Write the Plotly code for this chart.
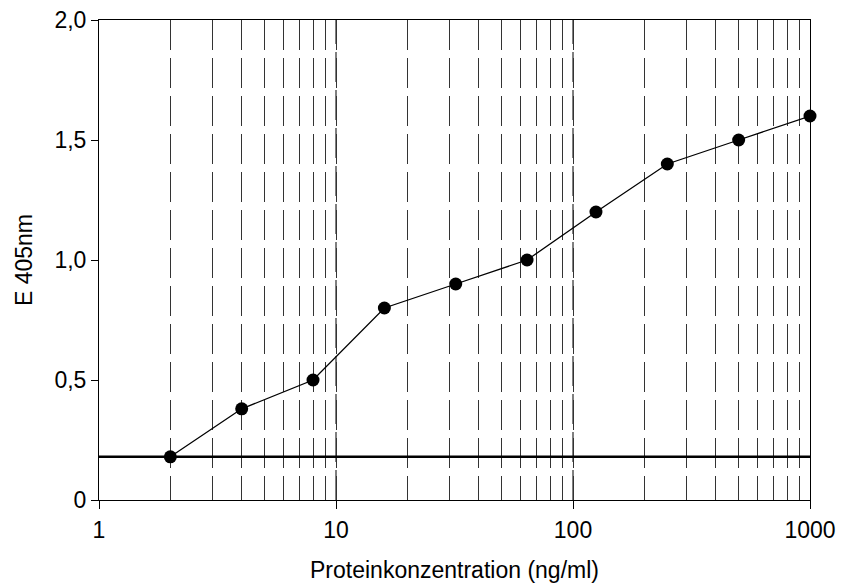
import plotly.graph_objects as go

# ELISA standard curve: extinction at 405 nm against protein concentration
konzentration = [2, 4, 8, 16, 32, 64, 125, 250, 500, 1000]
extinktion = [0.18, 0.38, 0.50, 0.80, 0.90, 1.00, 1.20, 1.40, 1.50, 1.60]
hintergrund = 0.18
x_bereich = [1, 1000]

y_tickvals = [0, 0.5, 1.0, 1.5, 2.0]
y_ticktext = ["0", "0,5", "1,0", "1,5", "2,0"]
x_tickvals = [1, 10, 100, 1000]
x_ticktext = ["1", "10", "100", "1000"]
dekaden_linien = [10, 100]

schrift = dict(family="Liberation Sans, Arial, sans-serif", size=23, color="black")

fig = go.Figure()

# background level line
fig.add_trace(go.Scatter(
    x=x_bereich, y=[hintergrund, hintergrund], mode="lines",
    line=dict(color="black", width=2.6), hoverinfo="skip", showlegend=False,
))

# measured curve
fig.add_trace(go.Scatter(
    x=konzentration, y=extinktion, mode="lines+markers",
    line=dict(color="black", width=1.3),
    marker=dict(color="black", size=13),
    cliponaxis=False, showlegend=False,
))

# decade lines drawn upward from the x axis
for d in dekaden_linien:
    fig.add_shape(type="line", xref="x", yref="y", x0=d, x1=d, y0=0, y1=2,
                  line=dict(color="black", width=1, dash="30px,8px"), layer="below")

fig.update_xaxes(
    type="log", range=[0, 3], automargin=False,
    tickvals=x_tickvals, ticktext=x_ticktext,
    ticks="outside", ticklen=8, tickcolor="black", tickwidth=1,
    ticklabelstandoff=1,
    showline=True, linecolor="black", linewidth=1, mirror=True,
    showgrid=False, zeroline=False,
    minor=dict(showgrid=True, gridcolor="#333333", gridwidth=1,
               griddash="30px,8px", ticks="", dtick="D1"),
    tickfont=schrift,
    title=dict(text="Proteinkonzentration (ng/ml)", font=schrift, standoff=21),
)
fig.update_yaxes(
    range=[0, 2], automargin=False,
    tickvals=y_tickvals, ticktext=y_ticktext,
    ticks="outside", ticklen=7, tickcolor="black", tickwidth=1,
    showline=True, linecolor="black", linewidth=1, mirror=True,
    showgrid=False, zeroline=False,
    tickfont=schrift,
    title=dict(text="E 405nm", font=schrift, standoff=15),
)

fig.update_layout(
    width=846, height=583,
    margin=dict(l=99, r=36, t=20, b=83),
    paper_bgcolor="white", plot_bgcolor="white",
    font=schrift,
)

fig.write_html("out.html")
